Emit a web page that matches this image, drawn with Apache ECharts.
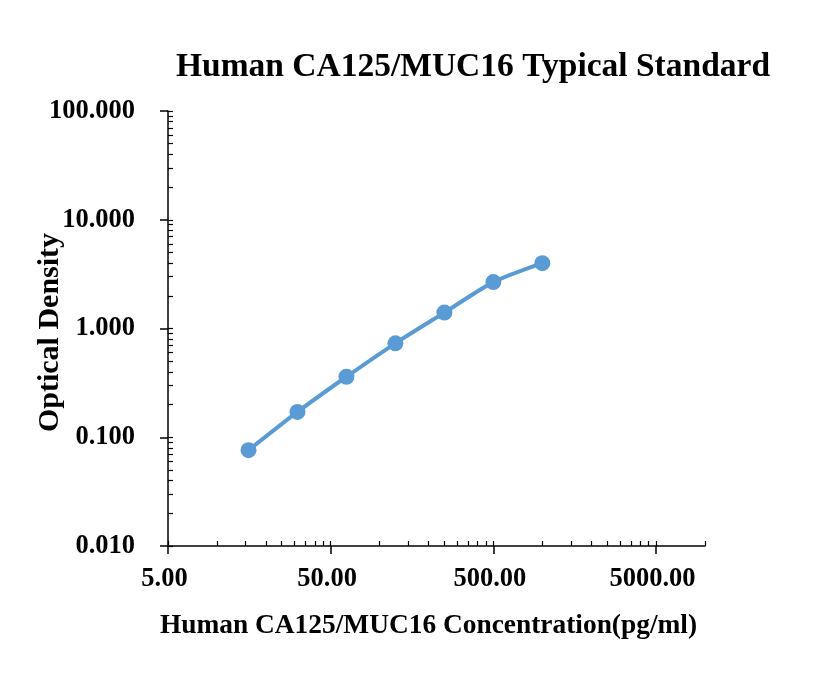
<!DOCTYPE html>
<html>
<head>
<meta charset="utf-8">
<script src="https://cdn.jsdelivr.net/npm/echarts@6/dist/echarts.min.js"></script>
<style>
  html, body { margin: 0; padding: 0; background: #fff; }
  #chart { width: 828px; height: 680px; }
</style>
</head>
<body>
<div id="chart"></div>
<script>
// standard curve
const concentration = [15.63, 31.25, 62.5, 125, 250, 500, 1000];
const opticalDensity = [0.076, 0.171, 0.360, 0.731, 1.40, 2.67, 3.99];

// tick labels
const xMajorTicks = [5, 50, 500, 5000];
const yMajorTicks = [0.01, 0.1, 1, 10, 100];

// minor ticks a la Excel: k * major for k = 2..9, inside each decade
function minorsOf(majors, upTo) {
    const out = [];
    majors.forEach(m => {
        for (let k = 2; k <= 9; k++) {
            const v = +(m * k).toPrecision(6);
            if (v <= upTo) out.push(v);
        }
    });
    return out;
}
const X_MAX = 10000;
const xMinorTicks = minorsOf(xMajorTicks, X_MAX);
const yMinorTicks = minorsOf(yMajorTicks.slice(0, -1), 100);

const FONT = '"Liberation Serif", "Times New Roman", serif';
const BLACK = '#000';
const BLUE = '#5B9BD5';

const chart = echarts.init(document.getElementById('chart'), null, { renderer: 'canvas' });

const labelStyle = {
    color: BLACK,
    fontFamily: FONT,
    fontWeight: 'bold',
    fontSize: 26.5,
};

const option = {
    backgroundColor: '#fff',
    animation: false,
    title: {
        text: 'Human CA125/MUC16 Typical Standard',
        left: 468,
        top: 45,
        textAlign: 'center',
        textStyle: { color: BLACK, fontFamily: FONT, fontWeight: 'bold', fontSize: 33.5 },
    },
    grid: {
        left: 168,
        right: 123,
        top: 111,
        bottom: 134,
        containLabel: false,
    },
    xAxis: [
        {
            type: 'log',
            logBase: 10,
            min: 5,
            max: X_MAX,
            position: 'bottom',
            name: 'Human CA125/MUC16 Concentration(pg/ml)',
            nameLocation: 'middle',
            nameGap: 66,
            nameMoveOverlap: false,
            nameTextStyle: {
                color: BLACK, fontFamily: FONT, fontWeight: 'bold', fontSize: 27.4,
                padding: [0, 16, 0, 0],
            },
            axisLine: { show: true, lineStyle: { color: BLACK, width: 1.5 } },
            axisTick: { show: true, customValues: xMajorTicks, inside: false, length: 8, lineStyle: { color: BLACK, width: 1.5 } },
            axisLabel: Object.assign({
                customValues: xMajorTicks,
                margin: 20,
                padding: [0, 7, 0, 0],
                formatter: v => Number(v).toFixed(2),
            }, labelStyle),
            splitLine: { show: false },
        },
        {
            type: 'log',
            logBase: 10,
            min: 5,
            max: X_MAX,
            position: 'bottom',
            axisLine: { show: false },
            axisTick: { show: true, customValues: xMajorTicks.concat(xMinorTicks), inside: true, length: 5, lineStyle: { color: BLACK, width: 1.2 } },
            axisLabel: { show: false },
            splitLine: { show: false },
        },
    ],
    yAxis: [
        {
            type: 'log',
            logBase: 10,
            min: 0.01,
            max: 100,
            position: 'left',
            name: 'Optical Density',
            nameLocation: 'middle',
            nameGap: 103,
            nameRotate: 90,
            nameMoveOverlap: false,
            nameTextStyle: {
                color: BLACK, fontFamily: FONT, fontWeight: 'bold', fontSize: 30,
                padding: [0, 8, 0, 0],
            },
            axisLine: { show: true, lineStyle: { color: BLACK, width: 1.5 } },
            axisTick: { show: true, customValues: yMajorTicks, inside: false, length: 8, lineStyle: { color: BLACK, width: 1.5 } },
            axisLabel: Object.assign({
                customValues: yMajorTicks,
                margin: 33,
                formatter: v => Number(v).toFixed(3),
            }, labelStyle),
            splitLine: { show: false },
        },
        {
            type: 'log',
            logBase: 10,
            min: 0.01,
            max: 100,
            position: 'left',
            axisLine: { show: false },
            axisTick: { show: true, customValues: yMajorTicks.concat(yMinorTicks), inside: true, length: 5, lineStyle: { color: BLACK, width: 1.2 } },
            axisLabel: { show: false },
            splitLine: { show: false },
        },
    ],
    series: [
        {
            type: 'line',
            xAxisIndex: 0,
            yAxisIndex: 0,
            data: concentration.map((c, i) => [c, opticalDensity[i]]),
            smooth: 0.25,
            symbol: 'circle',
            symbolSize: 16,
            lineStyle: { color: BLUE, width: 4 },
            itemStyle: { color: BLUE },
        },
    ],
};

chart.setOption(option);
</script>
</body>
</html>
